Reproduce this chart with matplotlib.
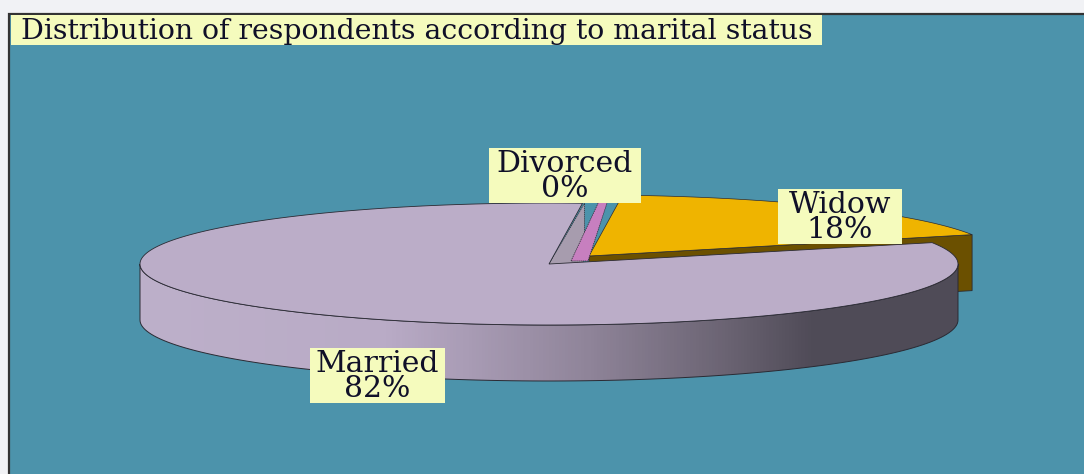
import numpy as np
import matplotlib
matplotlib.use("Agg")
import matplotlib.pyplot as plt
from matplotlib.colors import LinearSegmentedColormap
from matplotlib.patches import Polygon, Rectangle

# dados
titulo = "Distribution of respondents according to marital status"
categorias = ["Married", "Widow", "Divorced"]
valores = [82, 18, 0]
rotulos = ["82%", "18%", "0%"]

# geometria da pizza (pixels da figura)
cx, cy = 549, 264
rx, ry = 409, 61
altura = 56
inicio_widow = 20.5
desloc_widow = (40, -8)
desloc_div = (22, -3)

cor_fundo = "#4C93AB"
cor_rotulo = "#F5FBBD"
cor_married = "#BBADC8"
cor_widow = "#EFB400"
cor_widow_lado = "#6B5000"
cor_div = "#C77FBF"
cor_corte = "#A79CAE"
cor_linha = "#2A2A33"

def borda(t, dx=0, dy=0):
    t = np.radians(t)
    return np.column_stack([cx + dx + rx*np.cos(t), cy + dy - ry*np.sin(t)])

fig = plt.figure(figsize=(10.84, 4.74), dpi=100, facecolor="#F1F2F5")
ax = fig.add_axes([0, 0, 1, 1])
ax.set_xlim(0, 1084)
ax.set_ylim(474, 0)
ax.axis("off")

# area do grafico
ax.add_patch(Rectangle((9, 14), 1090, 470, fc=cor_fundo, ec="#333333", lw=1.6, zorder=1))

ang_widow = valores[1]/100*360
ang_married = valores[0]/100*360
fim_widow = inicio_widow + ang_widow

# fatia widow: lado e topo
dx, dy = desloc_widow
tw = np.linspace(inicio_widow, fim_widow, 80)
ponta_w = np.array([[cx + dx, cy + dy]])
p0 = borda(inicio_widow, dx, dy)
lado_w = np.vstack([ponta_w, p0, p0 + [0, altura], ponta_w + [0, altura]])
ax.add_patch(Polygon(lado_w, fc=cor_widow_lado, ec=cor_linha, lw=0.6, zorder=2))
topo_w = np.vstack([ponta_w, borda(tw, dx, dy)])
ax.add_patch(Polygon(topo_w, fc=cor_widow, ec=cor_linha, lw=0.5, zorder=3))

# face de corte da fatia married
p1 = borda(fim_widow)
ponta = np.array([[cx, cy]])
corte = np.vstack([ponta, p1 + [2, 0], p1 + [2, altura], ponta + [0, altura]])
ax.add_patch(Polygon(corte, fc=cor_corte, ec=cor_linha, lw=0.5, ls=(0, (2, 1)), zorder=4))

# fatia divorced (0%)
ddx, ddy = desloc_div
largura_div = 17
pd = np.vstack([
    [cx + ddx, cy + ddy],
    borda(fim_widow + 0.7, ddx, ddy),
    borda(fim_widow + 1.9, ddx + largura_div, ddy),
    [cx + ddx + largura_div, cy + ddy],
])
ax.add_patch(Polygon(pd, fc=cor_div, ec=cor_linha, lw=0.5, ls=(0, (2, 1)), zorder=5))

# lateral da married com degrade
tf = np.linspace(180, 360, 120)
frente = borda(tf)
lateral = Polygon(np.vstack([frente, (frente + [0, altura])[::-1]]), fc="none",
                  ec=cor_linha, lw=0.7, zorder=7)
ax.add_patch(lateral)
cmap = LinearSegmentedColormap.from_list("lado", [
    (0.00, "#BDB0CA"), (0.30, "#B9ABC6"), (0.40, "#A99CB5"), (0.55, "#8F8499"),
    (0.72, "#6A6372"), (0.82, "#504C58"), (1.00, "#4F4B57")])
img = ax.imshow(np.linspace(0, 1, 256).reshape(1, -1), cmap=cmap, aspect="auto",
                extent=[cx - rx, cx + rx, cy + ry + altura, cy - ry], zorder=6)
img.set_clip_path(lateral)
ax.set_xlim(0, 1084)
ax.set_ylim(474, 0)

# topo da married
tm = np.linspace(fim_widow, fim_widow + ang_married, 300)
topo_m = np.vstack([ponta, borda(tm)])
ax.add_patch(Polygon(topo_m, fc=cor_married, ec=cor_linha, lw=0.6, zorder=8))

# rotulos
def caixa(x0, y0, x1, y1, texto, tam):
    ax.add_patch(Rectangle((x0, y0), x1 - x0, y1 - y0, fc=cor_rotulo, ec="none", zorder=9))
    ax.text((x0 + x1)/2, (y0 + y1)/2 + 1, texto, ha="center", va="center", fontsize=tam,
            family="DejaVu Serif", color="#101028", linespacing=0.82, zorder=10)

caixa(11, 15, 822, 45, titulo, 20.4)
caixa(489, 148, 641, 203, categorias[2] + "\n" + rotulos[2], 21.5)
caixa(778, 189, 902, 244, categorias[1] + "\n" + rotulos[1], 21.5)
caixa(310, 348, 445, 403, categorias[0] + "\n" + rotulos[0], 21.5)

fig.savefig("out.png", dpi=100, facecolor=fig.get_facecolor())
